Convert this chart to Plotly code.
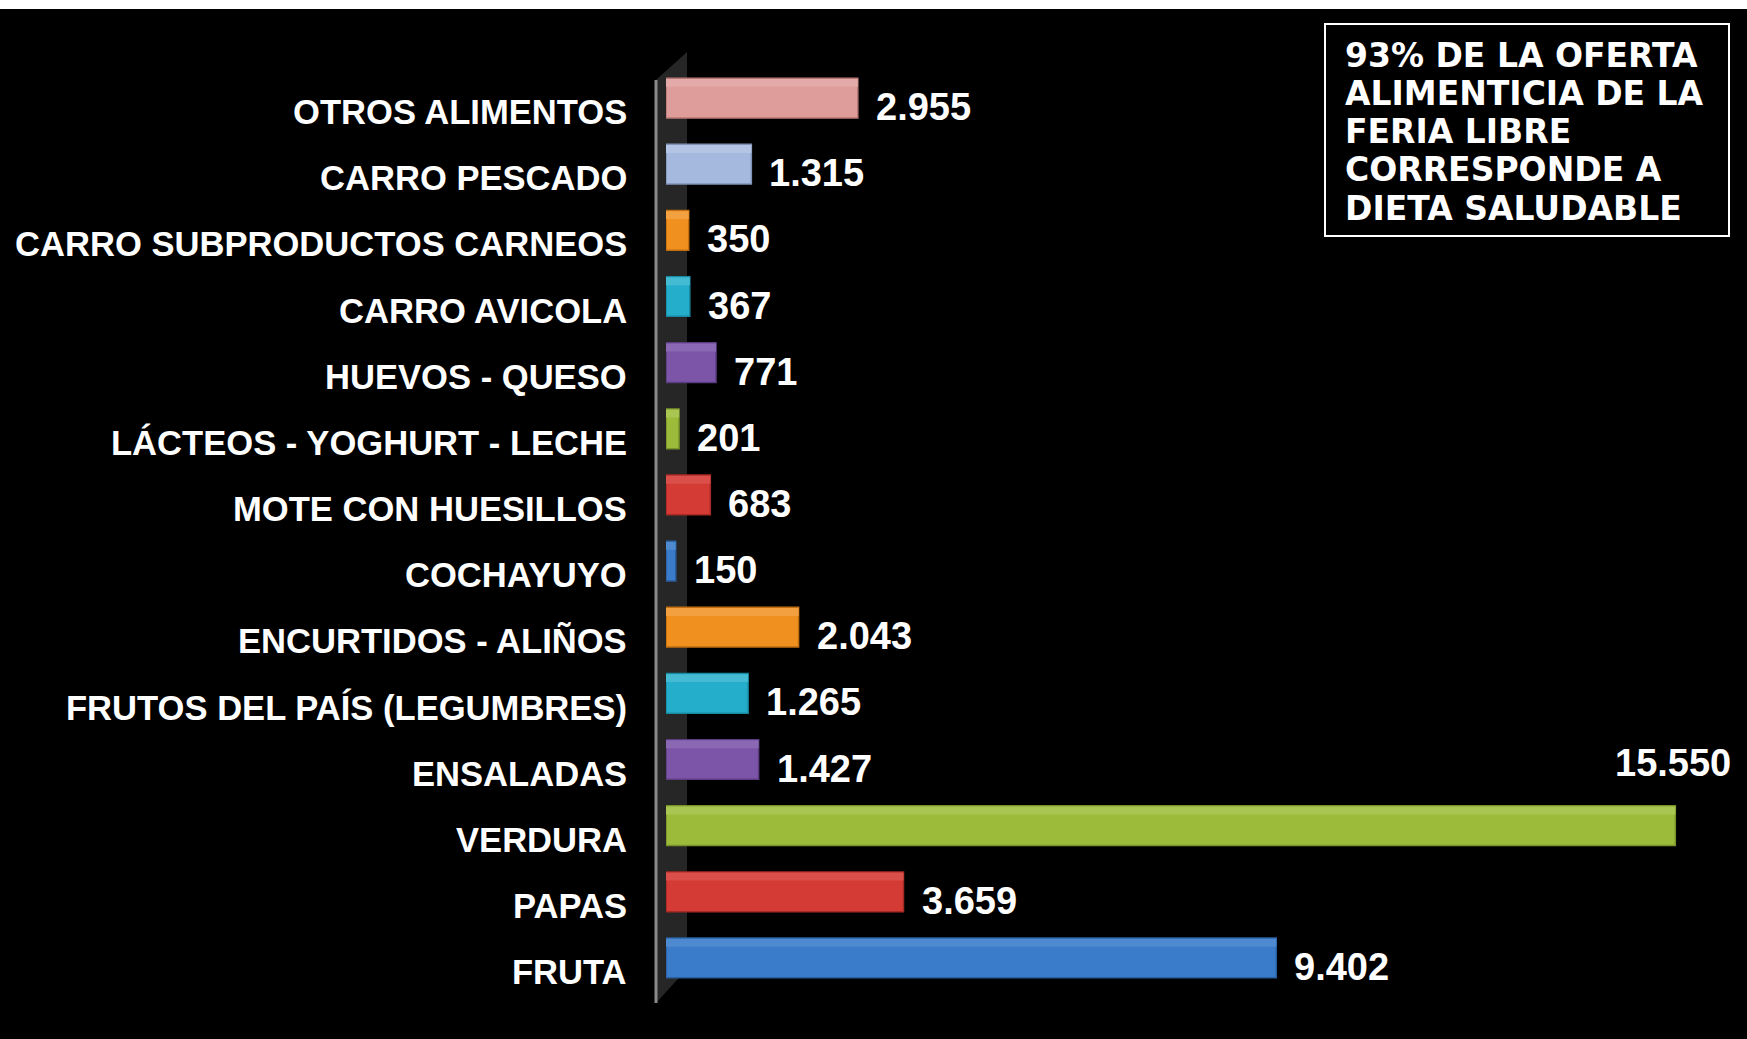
import plotly.graph_objects as go

categories = ["OTROS ALIMENTOS", "CARRO PESCADO", "CARRO SUBPRODUCTOS CARNEOS", "CARRO AVICOLA",
              "HUEVOS - QUESO", "LÁCTEOS - YOGHURT - LECHE", "MOTE CON HUESILLOS", "COCHAYUYO",
              "ENCURTIDOS - ALIÑOS", "FRUTOS DEL PAÍS (LEGUMBRES)", "ENSALADAS", "VERDURA", "PAPAS", "FRUTA"]
values = [2955, 1315, 350, 367, 771, 201, 683, 150, 2043, 1265, 1427, 15550, 3659, 9402]
colors = ["#de9c9b", "#a5b8de", "#f0901f", "#25aecb", "#7d55a8", "#9dbb3a", "#d43b35", "#3a7cc9",
          "#f0901f", "#25aecb", "#7d55a8", "#9dbb3a", "#d43b35", "#3a7cc9"]
edge_colors = ["#b97877", "#7f93b8", "#c06e10", "#1a8aa2", "#5c3c82", "#78922a", "#a82a25", "#285f9f",
               "#c06e10", "#1a8aa2", "#5c3c82", "#78922a", "#a82a25", "#285f9f"]
top_colors = ["#e4aaa9", "#b3c4e4", "#f3a040", "#45bad3", "#8a68b3", "#a9c552", "#da4f49", "#4d8ad0",
              "#f3a040", "#45bad3", "#8a68b3", "#a9c552", "#da4f49", "#4d8ad0"]
note_lines = ["93% DE LA OFERTA", "ALIMENTICIA DE LA", "FERIA LIBRE", "CORRESPONDE A", "DIETA SALUDABLE"]

FW, FH = 1747, 1039
L, R, T, B = 666, 1737, 65, 991
W, H = R - L, B - T


def xp(px):
    return (px - L) / W


def yp(py):
    return (B - py) / H


def fmt(v):
    return f"{v:,}".replace(",", ".")


fig = go.Figure()
fig.add_trace(go.Bar(
    y=categories, x=values, orientation="h",
    marker=dict(color=colors, line=dict(color=edge_colors, width=1.5)),
    width=0.6, hoverinfo="skip",
))
fig.add_trace(go.Bar(
    y=categories, x=values, orientation="h",
    marker=dict(color=top_colors, line=dict(width=0)),
    width=0.12, offset=-0.29, hoverinfo="skip",
))

annotations = []
for c in categories:
    annotations.append(dict(
        x=xp(629), xref="paper", y=c, yref="y", text=c, showarrow=False,
        xanchor="right", yanchor="middle", yshift=-14,
        font=dict(family="Liberation Sans, Arial", size=34.6, color="white", weight="bold"),
    ))
vmax = max(values)
for c, v in zip(categories, values):
    if v == vmax:
        annotations.append(dict(
            x=v, xref="x", y=c, yref="y", text=fmt(v), showarrow=False,
            xanchor="right", yanchor="middle", xshift=58, yshift=63,
            font=dict(family="Liberation Sans, Arial", size=38, color="white", weight="bold"),
        ))
    else:
        annotations.append(dict(
            x=v, xref="x", y=c, yref="y", text=fmt(v), showarrow=False,
            xanchor="left", yanchor="middle", xshift=16, yshift=-9,
            font=dict(family="Liberation Sans, Arial", size=38, color="white", weight="bold"),
        ))
for i, line in enumerate(note_lines):
    annotations.append(dict(
        x=xp(1343), xref="paper", y=yp(55 + 38.3 * i), yref="paper", text=line, showarrow=False,
        xanchor="left", yanchor="middle",
        font=dict(family="DejaVu Sans", size=33, color="white", weight="bold"),
    ))

shapes = [
    # white strip at top
    dict(type="rect", xref="paper", yref="paper", x0=xp(-5), x1=xp(FW + 5), y0=yp(9), y1=yp(-5),
         fillcolor="white", line=dict(width=0), layer="above"),
    # 3D wall
    dict(type="path", xref="paper", yref="paper",
         path=f"M {xp(656)} {yp(80)} L {xp(687)} {yp(52)} L {xp(687)} {yp(969)} L {xp(656)} {yp(1003)} Z",
         fillcolor="#262626", line=dict(width=0), layer="below"),
    dict(type="line", xref="paper", yref="paper", x0=xp(656), x1=xp(656), y0=yp(80), y1=yp(1003),
         line=dict(color="#8a8a8a", width=3), layer="below"),
    # note box
    dict(type="rect", xref="paper", yref="paper", x0=xp(1325), x1=xp(1729), y0=yp(236), y1=yp(24),
         fillcolor="black", line=dict(color="white", width=2), layer="below"),
]

fig.update_layout(
    width=FW, height=FH,
    margin=dict(l=L, r=FW - R, t=T, b=FH - B, pad=0),
    paper_bgcolor="black", plot_bgcolor="rgba(0,0,0,0)",
    showlegend=False, barmode="overlay",
    xaxis=dict(range=[0, 16500], visible=False, showgrid=False, zeroline=False),
    yaxis=dict(range=[13.5, -0.5], showticklabels=False, showgrid=False, zeroline=False,
               categoryorder="array", categoryarray=categories),
    annotations=annotations, shapes=shapes,
)
fig.write_html("out.html", config={"displayModeBar": False},
               post_script="document.body.style.margin='0';document.body.style.overflow='hidden';")
